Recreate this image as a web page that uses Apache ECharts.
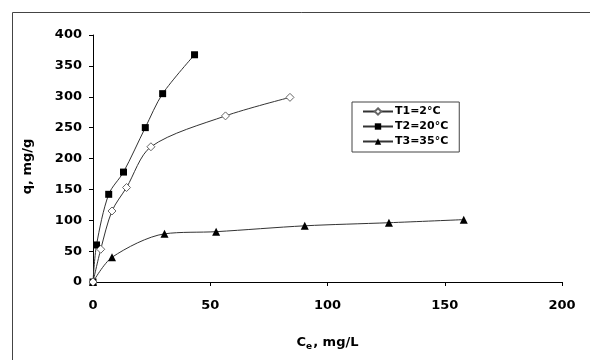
<!DOCTYPE html>
<html>
<head>
<meta charset="utf-8">
<script src="https://cdn.jsdelivr.net/npm/echarts@6/dist/echarts.min.js"></script>
<style>
html,body{margin:0;padding:0;background:#fff;}
#chart{width:590px;height:360px;}
</style>
</head>
<body>
<div id="chart"></div>
<script>
var seriesNames = ['T1=2°C', 'T2=20°C', 'T3=35°C'];
var t1Data = [[0, 0], [3.3, 53], [8.1, 115], [14.3, 153], [24.7, 219], [56.5, 269], [84, 299]];
var t2Data = [[0, 0], [1.5, 60], [6.7, 142], [13, 178], [22.3, 250], [29.7, 305], [43.3, 368]];
var t3Data = [[0, 0], [8.1, 40], [30.5, 78], [52.5, 81.5], [90.3, 91], [126.2, 96], [158.1, 101]];
var xTicks = [0, 50, 100, 150, 200];
var yTicks = [0, 50, 100, 150, 200, 250, 300, 350, 400];

var chart = echarts.init(document.getElementById('chart'));
var font = 'DejaVu Sans, sans-serif';
var lineStyle = {color: '#333', width: 1};
chart.setOption({
  animation: false,
  backgroundColor: '#fff',
  graphic: [{
    type: 'rect', left: 10, top: 10, z: -1,
    shape: {width: 600, height: 400},
    style: {fill: 'none', stroke: '#444', lineWidth: 1}
  }],
  grid: {left: 93, right: 28, top: 35, bottom: 78},
  legend: {
    data: seriesNames,
    orient: 'vertical',
    left: 352, top: 102,
    padding: [4, 11, 5, 10],
    itemGap: 4,
    itemWidth: 30, itemHeight: 8,
    borderColor: '#444', borderWidth: 1,
    backgroundColor: '#fff',
    textStyle: {fontFamily: font, fontWeight: 'bold', fontSize: 11, color: '#000', padding: [0, 0, 0, -3]}
  },
  xAxis: {
    type: 'value', min: 0, max: 200, interval: 50,
    axisLine: {show: true, lineStyle: {color: '#000', width: 1}},
    axisTick: {show: true, inside: false, length: 4, lineStyle: {color: '#000'}},
    splitLine: {show: false},
    axisLabel: {fontFamily: font, fontWeight: 'bold', fontSize: 13, color: '#000', margin: 17,
      formatter: function (v) { return xTicks.indexOf(v) >= 0 ? String(v) : ''; }},
    name: '{a|C}{b|e}{a|, mg/L}',
    nameLocation: 'middle', nameGap: 53,
    nameTextStyle: {
      rich: {
        a: {fontFamily: font, fontWeight: 'bold', fontSize: 13, color: '#000'},
        b: {fontFamily: font, fontWeight: 'bold', fontSize: 9, color: '#000', verticalAlign: 'bottom', padding: [7, 1, 0, 0]}
      }
    }
  },
  yAxis: {
    type: 'value', min: 0, max: 400, interval: 50,
    axisLine: {show: true, lineStyle: {color: '#000', width: 1}},
    axisTick: {show: true, inside: false, length: 4, lineStyle: {color: '#000'}},
    splitLine: {show: false},
    axisLabel: {fontFamily: font, fontWeight: 'bold', fontSize: 13, color: '#000', margin: 11,
      formatter: function (v) { return yTicks.indexOf(v) >= 0 ? String(v) : ''; }},
    name: 'q, mg/g',
    nameLocation: 'middle', nameGap: 59,
    nameTextStyle: {fontFamily: font, fontWeight: 'bold', fontSize: 13, color: '#000', padding: [0, 16, 0, 0]}
  },
  series: [{
    name: seriesNames[0], type: 'line', data: t1Data, smooth: 0.3,
    symbol: 'diamond', symbolSize: 8,
    lineStyle: lineStyle,
    itemStyle: {color: '#fff', borderColor: '#666', borderWidth: 1},
    z: 3
  }, {
    name: seriesNames[1], type: 'line', data: t2Data, smooth: 0.3,
    symbol: 'rect', symbolSize: 7,
    lineStyle: lineStyle,
    itemStyle: {color: '#000', borderColor: '#000', borderWidth: 0},
    z: 2
  }, {
    name: seriesNames[2], type: 'line', data: t3Data, smooth: 0.3,
    symbol: 'triangle', symbolSize: 8,
    lineStyle: lineStyle,
    itemStyle: {color: '#000', borderColor: '#000', borderWidth: 0},
    z: 2
  }]
});
</script>
</body>
</html>
